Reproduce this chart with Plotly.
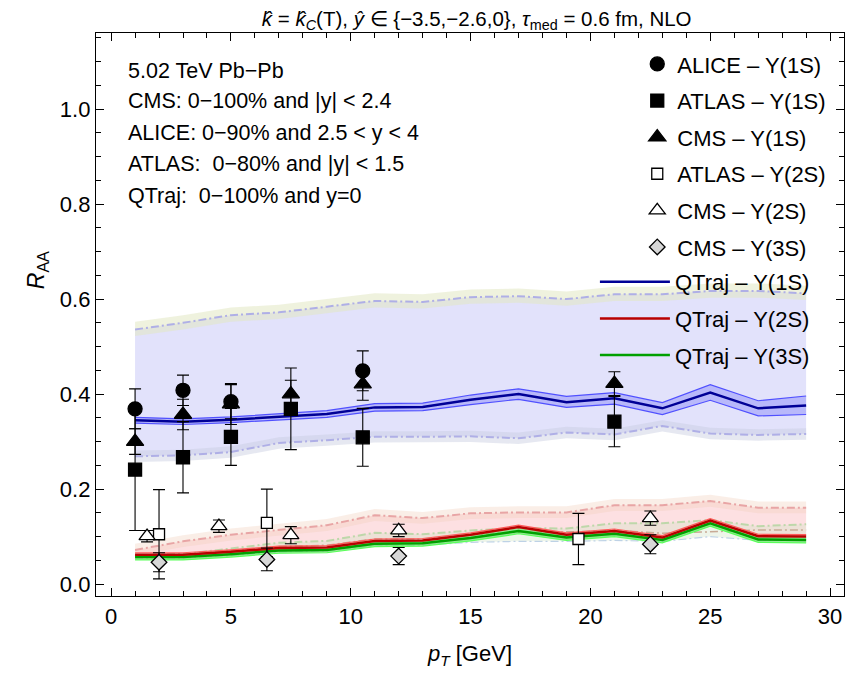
import plotly.graph_objects as go

# ---------------- data ----------------
pt_th = [1, 3, 5, 7, 9, 11, 13, 15, 17, 19, 21, 23, 25, 27, 29]

# QTraj Y(1S)
q1_c  = [0.345, 0.342, 0.346, 0.352, 0.358, 0.372, 0.373, 0.388, 0.400, 0.383, 0.391, 0.370, 0.403, 0.370, 0.376]
q1_hi = [0.351, 0.348, 0.352, 0.359, 0.365, 0.380, 0.381, 0.398, 0.411, 0.395, 0.403, 0.382, 0.420, 0.386, 0.396]
q1_lo = [0.339, 0.336, 0.340, 0.345, 0.351, 0.364, 0.365, 0.378, 0.389, 0.372, 0.379, 0.357, 0.387, 0.354, 0.357]
q1_up = [0.536, 0.550, 0.566, 0.572, 0.584, 0.596, 0.594, 0.604, 0.606, 0.600, 0.610, 0.610, 0.617, 0.617, 0.612]
q1_dn = [0.269, 0.271, 0.278, 0.297, 0.303, 0.310, 0.310, 0.311, 0.307, 0.319, 0.315, 0.333, 0.317, 0.314, 0.316]

# QTraj Y(2S)
q2_c  = [0.062, 0.062, 0.068, 0.076, 0.077, 0.091, 0.092, 0.104, 0.120, 0.104, 0.112, 0.098, 0.134, 0.101, 0.100]
q2_up = [0.072, 0.090, 0.104, 0.114, 0.124, 0.145, 0.139, 0.149, 0.151, 0.151, 0.166, 0.166, 0.175, 0.161, 0.161]
q2_dn = [0.060, 0.064, 0.070, 0.079, 0.082, 0.095, 0.095, 0.104, 0.109, 0.110, 0.113, 0.107, 0.110, 0.114, 0.114]

# QTraj Y(3S)
q3_c  = [0.057, 0.057, 0.063, 0.071, 0.072, 0.085, 0.086, 0.097, 0.112, 0.098, 0.106, 0.093, 0.128, 0.094, 0.093]
q3_up = [0.058, 0.063, 0.075, 0.087, 0.091, 0.108, 0.105, 0.113, 0.118, 0.117, 0.128, 0.128, 0.135, 0.122, 0.126]
q3_dn = [0.055, 0.055, 0.060, 0.068, 0.070, 0.080, 0.082, 0.088, 0.090, 0.090, 0.092, 0.090, 0.100, 0.092, 0.092]

# experimental data
alice1_x = [1, 3, 5, 10.5]
alice1_y = [0.369, 0.408, 0.384, 0.449]
alice1_e = [0.042, 0.032, 0.036, 0.042]

atlas1_x = [1, 3, 5, 7.5, 10.5, 21]
atlas1_y = [0.241, 0.267, 0.310, 0.369, 0.309, 0.342]
atlas1_e = [0.128, 0.075, 0.060, 0.086, 0.061, 0.053]

cms1_x = [1, 3, 5, 7.5, 10.5, 21]
cms1_y = [0.300, 0.357, 0.379, 0.400, 0.421, 0.422]
cms1_e = [0.027, 0.032, 0.043, 0.029, 0.034, 0.025]

atlas2_x = [2, 6.5, 19.5]
atlas2_y = [0.105, 0.129, 0.095]
atlas2_e = [0.094, 0.071, 0.054]

cms2_x = [1.5, 4.5, 7.5, 12, 22.5]
cms2_y = [0.101, 0.122, 0.103, 0.113, 0.139]
cms2_e = [0.012, 0.013, 0.018, 0.013, 0.015]

cms3_x = [2, 6.5, 12, 22.5]
cms3_y = [0.046, 0.052, 0.059, 0.084]
cms3_e = [0.020, 0.024, 0.018, 0.020]

# ---------------- figure ----------------
fig = go.Figure()


def band(lo, hi, color):
    fig.add_trace(go.Scatter(
        x=pt_th + pt_th[::-1], y=hi + lo[::-1], fill="toself", fillcolor=color,
        mode="lines", line=dict(width=0), showlegend=False, hoverinfo="skip"))


def shifted(vals, d):
    return [v + d for v in vals]


def line(y, color, width, dash="solid", name=None, rank=None):
    fig.add_trace(go.Scatter(
        x=pt_th, y=y, mode="lines", line=dict(color=color, width=width, dash=dash),
        name=name, showlegend=name is not None, legendgroup=name, legend="legend2",
        legendrank=rank if rank else 1000, hoverinfo="skip"))


# wide kappa bands
band(q1_dn, q1_up, "rgb(226,226,251)")
band(shifted(q1_up, -0.014), shifted(q1_up, 0.016), "rgba(225,232,195,0.55)")
band(shifted(q1_dn, -0.012), shifted(q1_dn, 0.012), "rgba(200,205,225,0.45)")

band(q2_c, q2_up, "rgb(253,224,226)")
band(shifted(q2_up, -0.012), shifted(q2_up, 0.013), "rgba(240,205,185,0.35)")
band(q3_dn, q3_up, "rgba(205,225,195,0.35)")

# dashed kappa-variation lines
line(q1_up, "rgb(175,175,230)", 2, "8px,3px,2px,3px")
line(q1_dn, "rgb(175,175,230)", 2, "8px,3px,2px,3px")
line(q2_up, "rgb(232,165,165)", 2, "8px,3px,2px,3px")
line(q2_dn, "rgb(200,170,150)", 1.5, "8px,3px,2px,3px")
line(q3_up, "rgb(190,215,170)", 2, "8px,3px,2px,3px")
line(q3_dn, "rgb(190,210,230)", 1.2, "8px,3px,2px,3px")

# narrow bands
band(q1_lo, q1_hi, "rgba(150,150,250,0.55)")
line(q1_hi, "rgb(80,80,255)", 1.2)
line(q1_lo, "rgb(80,80,255)", 1.2)
band(shifted(q3_c, -0.006), shifted(q3_c, 0.006), "rgba(90,220,90,0.6)")
line(shifted(q3_c, -0.006), "rgb(90,255,90)", 1.2)
line(shifted(q2_c, 0.004), "rgb(255,90,90)", 1.2)

# central lines
line(q3_c, "rgb(0,160,0)", 2.5, name="QTraj \u2013 Y(3S)", rank=9)
line(q2_c, "rgb(185,0,0)", 2.5, name="QTraj \u2013 Y(2S)", rank=8)
line(q1_c, "rgb(0,0,150)", 2.5, name="QTraj \u2013 Y(1S)", rank=7)


def points(x, y, e, symbol, size, fill, name, rank):
    fig.add_trace(go.Scatter(
        x=x, y=y, mode="markers", name=name, legendgroup=name, legendrank=rank,
        legend="legend",
        marker=dict(symbol=symbol, size=size, color=fill,
                    line=dict(color="black", width=1.3)),
        error_y=dict(type="data", array=e, color="black", thickness=1.1, width=6),
        hoverinfo="skip"))


points(atlas2_x, atlas2_y, atlas2_e, "square", 11, "white", "ATLAS \u2013 Y(2S)", 4)
points(cms2_x, cms2_y, cms2_e, "triangle-up", 14, "white", "CMS \u2013 Y(2S)", 5)
points(cms3_x, cms3_y, cms3_e, "diamond", 12, "rgb(215,215,215)", "CMS \u2013 Y(3S)", 6)
points(atlas1_x, atlas1_y, atlas1_e, "square", 13, "black", "ATLAS \u2013 Y(1S)", 2)
points(cms1_x, cms1_y, cms1_e, "triangle-up", 15, "black", "CMS \u2013 Y(1S)", 3)
points(alice1_x, alice1_y, alice1_e, "circle", 14, "black", "ALICE \u2013 Y(1S)", 1)

FONT = "Liberation Sans, Arial, sans-serif"

info_lines = [
    "5.02 TeV Pb\u2212Pb",
    "CMS: 0\u2212100% and |y| &lt; 2.4",
    "ALICE: 0\u221290% and 2.5 &lt; y &lt; 4",
    "ATLAS:\u00a0 0\u221280% and |y| &lt; 1.5",
    "QTraj:\u00a0 0\u2212100% and y=0",
]
info_y = [0.933, 0.879, 0.823, 0.767, 0.711]
annotations = [
    dict(text=t, x=0.04, y=yy, xref="paper", yref="paper", xanchor="left",
         yanchor="middle", showarrow=False, font=dict(size=21.5, color="black", family=FONT))
    for t, yy in zip(info_lines, info_y)
]
annotations.append(dict(
    text="<i>R</i><sub>AA</sub>", x=-0.078, y=0.578, xref="paper", yref="paper",
    xanchor="center", yanchor="middle", textangle=-90, showarrow=False,
    font=dict(size=23, color="black", family=FONT)))

axis_common = dict(
    showline=True, linecolor="black", linewidth=1.3, mirror="allticks",
    ticks="inside", ticklen=8, tickwidth=1.1, tickcolor="black",
    showgrid=False, zeroline=False,
    tickfont=dict(size=22, color="black", family=FONT),
)

legend_common = dict(bgcolor="rgba(0,0,0,0)", borderwidth=0, xanchor="left", yanchor="top",
                     font=dict(size=22, color="black", family=FONT), tracegroupgap=5)

fig.update_layout(
    width=860, height=673,
    margin=dict(l=88, r=24, t=25, b=85),
    paper_bgcolor="white", plot_bgcolor="white",
    font=dict(family=FONT, color="black"),
    title=dict(
        text="<i>k\u0302</i> = <i>k\u0302</i><sub><i>C</i></sub>(T), <i>\u0177</i> \u2208 {\u22123.5,\u22122.6,0}, "
             "<i>\u03c4</i><sub>med</sub> = 0.6 fm, NLO",
        x=0.545, xanchor="center", y=0.995, yanchor="top",
        font=dict(size=20.5, color="black", family=FONT)),
    xaxis=dict(range=[-0.63, 30.58], tickvals=[0, 5, 10, 15, 20, 25, 30],
               minor=dict(dtick=1, ticks="inside", ticklen=4.5, tickcolor="black", tickwidth=1),
               title=dict(text="<i>p</i><sub><i>T</i></sub> [GeV]", standoff=18,
                          font=dict(size=22, color="black", family=FONT)),
               **axis_common),
    yaxis=dict(range=[-0.025, 1.16], tickvals=[0.0, 0.2, 0.4, 0.6, 0.8, 1.0],
               tickformat=".1f",
               minor=dict(dtick=0.05, ticks="inside", ticklen=4.5, tickcolor="black", tickwidth=1),
               **axis_common),
    legend=dict(x=0.7236, y=0.982, itemwidth=30, **legend_common),
    legend2=dict(x=0.667, y=0.595, itemwidth=70, **legend_common),
    annotations=annotations,
)

fig.write_html("out.html")
